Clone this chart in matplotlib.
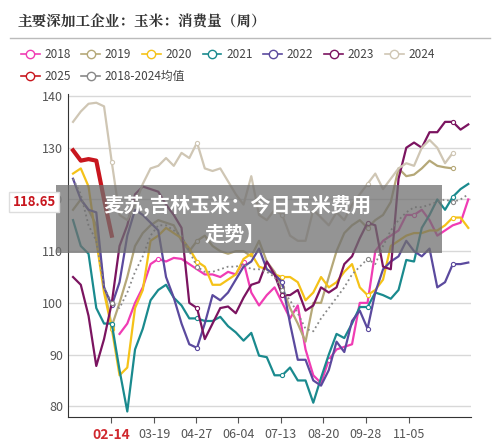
import matplotlib
matplotlib.use("Agg")
import matplotlib.pyplot as plt
from matplotlib.patches import Rectangle
from matplotlib.lines import Line2D

plt.rcParams['font.family'] = ['Noto Sans CJK SC', 'DejaVu Sans']

s2018 = [None]*6 + [94,96,100,103,107.5,108.5,108,108.7,108.5,107.5,106.5,105.5,105.5,105,106,105.5,108,102,99.5,101.5,103,100,97,99.5,91,86,84.5,89,91,91.5,92,100,100,110,112,113,114,117,117,118,116,113,114,115,115.5,120]
s2019 = [118,120,118,115,103,95.5,100,105,111,113.5,115,116,115.5,115,112,110,112,113,111,110,109.5,110,110,109,112,108,106,103,99,96,92.5,100,100,105,110,113.5,115,116,114.5,116,117,119.5,126,124.5,124.8,126,127.5,126.5,126.2,126]
s2020 = [125,126,122.5,112,102,95,86,87.5,99,102.5,112,113,114.5,113.5,112.5,110.5,108,107,103.5,103.5,104.5,105.5,108.5,109.5,107,106.5,105.5,105,105,104,100.5,102,105,103,104,106,107.5,103,101.5,102.5,104.5,111,112,113,113.5,113.5,114,114,115,116.5,116.5,114.5]
s2021 = [116,111,109.5,99,96,96,87,79,91,95,100.5,102.5,103.5,101,99.5,97,97,96.5,96.5,97.3,95.5,94.3,92.7,94.2,89.8,89.5,86,86,87.5,85,85,80.7,85.5,90,94,93.2,96,99.2,99.2,102,101.5,100.8,102.5,108.3,108,114.5,117,120,118,120.5,122,123]
s2022 = [124,120,118,117.5,103,99.5,104,113,118,117,115.5,114,105,101,96,92,91.3,96,101.5,100.5,102,104.5,107,108,110.5,106.5,105.5,104,96,89,89,85,84,87,92.5,90.5,96.5,98.5,95,102,106.5,108,109,112,110,109,110.5,103,104,107.5,107.5,107.8]
s2023 = [105,103.5,97.5,87.8,93,100,111,115,121,122.5,122,121.5,119,117,114.5,100,99,93,96,99,99.3,98,101,103.5,104,108,105.5,101.5,101.5,102.5,98.5,99.5,103,102,103,107.5,109,112.5,115.5,115,107,106.5,124,130,131,130,133,133,135,135,133.5,134.5]
s2024 = [135,137,138.5,138.7,138,127.2,117,116,119,123,126,126.5,128,126.5,129,128,131,126,125.5,126,123.5,121,119,124.5,117,116,118,117,113,112,112,118,116.5,115,117.5,116,119,121,123,125,122,124,126,127,126.5,130,131.5,130,127,129]
s2025 = [129.5,127.5,127.8,127.5,120,113]
savg = [124,121,115,112,103,100,99,102,106,109,113,115,115,114,113,110,107,106,106,106.5,107,107,107.5,106.5,106.5,106,105,102.5,100.5,98,95,94.5,97,99,101,103,105.5,107,108.5,107.5,111,114,116,117.5,118.5,118.5,119,119.5,120,119.5,120,121]

tick_pos = [4.9, 10.5, 15.9, 21.3, 26.8, 32.3, 37.8, 43.4]
tick_lab = ['02-14', '03-19', '04-27', '06-04', '07-13', '08-20', '09-28', '11-05']

series = [
    ('2018', s2018, '#f03cb4', 1.6, '-'),
    ('2019', s2019, '#b5a878', 1.6, '-'),
    ('2020', s2020, '#f5c218', 1.6, '-'),
    ('2021', s2021, '#1a8a8e', 1.6, '-'),
    ('2022', s2022, '#5b4a9e', 1.6, '-'),
    ('2023', s2023, '#7b1460', 1.6, '-'),
    ('2024', s2024, '#cfc6b4', 1.6, '-'),
    ('2025', s2025, '#c8161e', 3.0, '-'),
    ('2018-2024均值', savg, '#888888', 1.3, ':'),
]

fig = plt.figure(figsize=(5, 4.41), dpi=100)
ax = fig.add_axes([0.136, 0.054, 0.806, 0.733])
for name, vals, c, lw, ls in series:
    xs = [i for i, v in enumerate(vals) if v is not None]
    ys = [v for v in vals if v is not None]
    ax.plot(xs, ys, color=c, lw=lw, ls=ls, marker='o', ms=3, mfc='white',
            mec=c, mew=0.8, markevery=list(range(5, len(xs), 11)) if len(xs) > 6 else [])

ax.set_xlim(-0.65, 51.35)
ax.set_ylim(77.9, 140.4)
ax.set_yticks([80, 90, 100, 110, 120, 130, 140])
ax.set_xticks(tick_pos)
ax.set_xticklabels(tick_lab)
ax.grid(axis='y', color='#d8d8d8', lw=1)
ax.set_axisbelow(True)
for sp in ['top', 'right']:
    ax.spines[sp].set_visible(False)
ax.spines['left'].set_color('#333333')
ax.spines['bottom'].set_color('#333333')
ax.tick_params(axis='y', length=0, labelsize=9, colors='#555555')
ax.tick_params(axis='x', length=4, labelsize=9, colors='#555555')
lab0 = ax.get_xticklabels()[0]
lab0.set_color('#d0282e'); lab0.set_fontweight('bold'); lab0.set_fontsize(10)

fig.text(0.036, 0.95, '主要深加工企业：玉米：消费量（周）', fontsize=10.5, fontweight='bold',
         color='#333333', family=['Noto Serif CJK SC', 'Noto Sans CJK SC'], va='center')
fig.add_artist(Line2D([0.02, 0.98], [0.913, 0.913], color='#bbbbbb', lw=1))

handles = [Line2D([], [], color=c, lw=1.2, marker='o', ms=6, mfc='white', mec=c) for _, _, c, _, _ in series]
fig.legend(handles[:7], [s[0] for s in series[:7]], loc='upper left', bbox_to_anchor=(0.02, 0.915),
           ncol=7, frameon=False, fontsize=8.5, handlelength=1.6, handletextpad=0.4, columnspacing=0.9,
           labelcolor='#444444')
fig.legend(handles[7:], [s[0] for s in series[7:]], loc='upper left', bbox_to_anchor=(0.02, 0.865),
           ncol=2, frameon=False, fontsize=8.5, handlelength=1.6, handletextpad=0.4, columnspacing=0.9,
           labelcolor='#444444')

fig.add_artist(Rectangle((0.112, 1-253/441), 0.772, 68/441, transform=fig.transFigure,
                         facecolor='#707070', alpha=0.75, edgecolor='none', zorder=5))
fig.text(0.475, 1-205/441, '麦苏,吉林玉米：今日玉米费用', color='white', fontsize=14.5, fontweight='bold',
         ha='center', va='center', zorder=6)
fig.text(0.47, 1-234/441, '走势】', color='white', fontsize=14.5, fontweight='bold',
         ha='center', va='center', zorder=6)
fig.text(0.068, 1-202/441, '118.65', color='#c8161e', fontsize=9.5, fontweight='bold', ha='center', va='center',
         zorder=7, bbox=dict(boxstyle='square,pad=0.25', fc='white', ec='#dddddd'))

fig.savefig('out.png', dpi=100)
